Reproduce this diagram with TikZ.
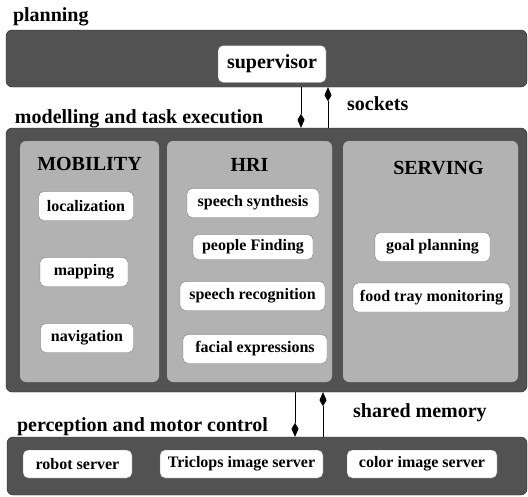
\documentclass[tikz,border=0pt]{standalone}
\usepackage{fontspec}
\setmainfont{Liberation Serif}
\usetikzlibrary{arrows.meta,positioning}

\begin{document}
\begin{tikzpicture}[x=1pt,y=-1pt,>={Kite[length=14pt,width=7pt,inset=6pt]},
                    layer/.style={draw=black!85,fill=black!68,rounded corners=6pt,inner sep=0pt},
                    panel/.style={fill=black!30,rounded corners=6pt,inner sep=0pt},
                    module/.style={draw=black!55,fill=white,rounded corners=5pt,inner sep=0pt,
                                   minimum height=29pt,font=\bfseries\fontsize{16}{18}\selectfont},
                    title/.style={inner sep=0pt,font=\bfseries\fontsize{20}{22}\selectfont},
                    link/.style={->,semithick}]
  \useasboundingbox (0,0) rectangle (528,496);

  % layers
  \node[layer,minimum width=521pt,minimum height=57pt]  (plan) at (266.5,58.5) {};
  \node[layer,minimum width=521pt,minimum height=264pt] (exec) at (266.5,260)  {};
  \node[layer,minimum width=520pt,minimum height=58pt]  (motor) at (267,466)   {};

  \node[title,anchor=base west] (planlbl)  at ([xshift=7pt,yshift=8pt]plan.north west)  {planning};
  \node[title,anchor=base west] (execlbl)  at ([xshift=9pt,yshift=4pt]exec.north west)  {modelling and task execution};
  \node[title,anchor=base west] (motorlbl) at ([xshift=10pt,yshift=5pt]motor.north west) {perception and motor control};

  % planning
  \node[module,minimum width=108pt,minimum height=37pt,font=\bfseries\fontsize{20}{22}\selectfont]
        (sup) at (272,64) {supervisor};

  % modelling and task execution
  \node[panel,minimum width=139pt,minimum height=241pt] (mob)  at (89.5,261.5)  {};
  \node[panel,minimum width=165pt,minimum height=241pt] (hri)  at (249.5,261.5) {};
  \node[panel,minimum width=175pt,minimum height=241pt] (serv) at (430.5,261.5) {};

  \node[title,below=16pt of mob.north]  (mobt)  {MOBILITY};
  \node[title,below=17pt of hri.north]  (hrit)  {HRI};
  \node[title,below=20pt of serv.north,xshift=8pt] (servt) {SERVING};

  \node[module,minimum width=95pt]  (loc)  at (86,206)  {localization};
  \node[module,minimum width=88pt]  (map)  at (84,272)  {mapping};
  \node[module,minimum width=93pt]  (nav)  at (87,338)  {navigation};

  \node[module,minimum width=132pt] (synth) at (253,203) {speech synthesis};
  \node[module,minimum width=120pt,minimum height=25pt] (find) at (253,247) {people Finding};
  \node[module,minimum width=145pt] (recog) at (252.5,296) {speech recognition};
  \node[module,minimum width=144pt] (face)  at (255,349) {facial expressions};

  \node[module,minimum width=115pt] (goal) at (432.5,247) {goal planning};
  \node[module,minimum width=157pt] (tray) at (431.5,297.5) {food tray monitoring};

  % perception and motor control
  \node[module,minimum width=109pt,minimum height=28pt] (robot) at (77.5,464)  {robot server};
  \node[module,minimum width=163pt,minimum height=28pt] (tri)   at (241.5,464) {Triclops image server};
  \node[module,minimum width=150pt,minimum height=28pt] (color) at (422,464)   {color image server};

  % communication
  \draw[link] ([xshift=34.5pt]plan.south) -- ([xshift=34.5pt]exec.north);
  \draw[link] ([xshift=61.5pt]exec.north) -- ([xshift=61.5pt]plan.south);
  \node[title,anchor=base west] (sock) at (347,110) {sockets};

  \draw[link] ([xshift=28.5pt]exec.south) -- ([xshift=28pt]motor.north);
  \draw[link] ([xshift=56pt]motor.north) -- ([xshift=56.5pt]exec.south);
  \node[title,anchor=base west] (shm) at (353,417) {shared memory};
\end{tikzpicture}
\end{document}
